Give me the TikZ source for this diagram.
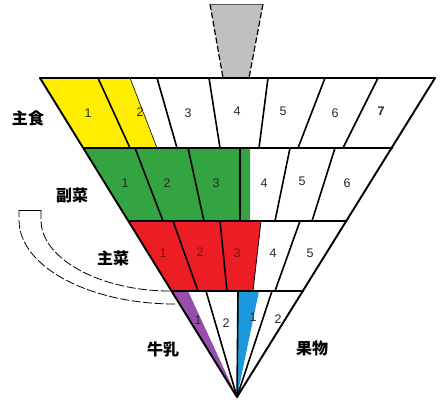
\documentclass[tikz,border=0pt]{standalone}
\usepackage{fontspec}
\setmainfont{Liberation Sans}
\newfontfamily\jpfont{Noto Sans CJK JP}
\definecolor{grainyellow}{RGB}{255,238,0}
\definecolor{vegegreen}{RGB}{52,163,66}
\definecolor{mainred}{RGB}{236,30,36}
\definecolor{milkpurple}{RGB}{150,78,170}
\definecolor{fruitblue}{RGB}{28,152,222}
\definecolor{handlegray}{RGB}{192,192,192}
\definecolor{numdark}{RGB}{40,40,40}
\definecolor{numred}{RGB}{120,20,20}
\begin{document}
\begin{tikzpicture}[x=1pt,y=-1pt,
  num/.style={font=\fontsize{12.5}{12.5}\selectfont, text=numdark, inner sep=0pt},
  numonred/.style={num, text=numred},
  cat/.style={font=\jpfont\bfseries\fontsize{16}{16}\selectfont, inner sep=0pt},
  divider/.style={line width=1.6pt, line join=round},
  bandline/.style={line width=2.8pt},
  rim/.style={line width=1.9pt, line join=round},
  guide/.style={line width=0.8pt, dash pattern=on 9pt off 2.5pt},
  handleside/.style={line width=1.2pt, dash pattern=on 6pt off 2.5pt}]
\useasboundingbox (0,0) rectangle (446,405);

% ---- outline of the top
\coordinate (A)  at (237,397);
\coordinate (L0) at (40,78);   \coordinate (R0) at (435,78);
\coordinate (L1) at (83,148);  \coordinate (R1) at (393,148);
\coordinate (L2) at (128,221); \coordinate (R2) at (347,221);
\coordinate (L3) at (172,291); \coordinate (R3) at (304,291);

% ---- curved guide showing the spin
\draw[guide] (175,304) .. controls (88.8,304) and (19,266.4) .. (19,220)
  -- (19,210);
\draw[guide] (41,210) -- (41,220)
  .. controls (41,259.2) and (101,291) .. (170,291);
\draw[line width=0.8pt] (19,210) -- (41,210);

% ---- handle
\fill[handlegray] (210,4) -- (263,4) -- (249,78) -- (223,78) -- cycle;
\draw[handleside] (210,4) -- (223,78);
\draw[handleside] (263,4) -- (249,78);
\draw[line width=1pt, gray!70!black] (210,4) -- (263,4);

% ---- coloured servings
\fill[grainyellow] (L0) -- (130,78) -- (157,148) -- (L1) -- cycle;
\fill[vegegreen] (L1) -- (250,148) -- (250,221) -- (L2) -- cycle;
\fill[mainred] (L2) -- (261,221) -- (253,291) -- (L3) -- cycle;
\fill[milkpurple] (L3) -- (188,291) -- (A) -- cycle;
\fill[fruitblue] (238,291) -- (259,291) -- (A) -- cycle;

% ---- dividers, staple foods
\draw[line width=0.6pt] (130,78) -- (157,148);
\draw[divider] (98,78) -- (130,148);
\draw[divider] (157,78) -- (177,148);
\draw[divider] (209,78) -- (220,148);
\draw[divider] (268,78) -- (259,148);
\draw[divider] (325,78) -- (298,148);
\draw[divider] (378,78) -- (343,148);
% ---- dividers, side dishes
\draw[divider] (135,148) -- (163,221);
\draw[divider] (188,148) -- (204,221);
\draw[divider] (240,148) -- (240,221);
\draw[divider] (290,148) -- (275,221);
\draw[divider] (335,148) -- (312,221);
% ---- dividers, main dishes
\draw[divider] (173,221) -- (198,291);
\draw[divider] (220,221) -- (227,291);
\draw[line width=0.8pt] (261,221) -- (253,291);
\draw[divider] (300,221) -- (275,291);
% ---- dividers, milk and fruit
\draw[divider] (206,291) -- (A);
\draw[divider] (238,291) -- (A);
\draw[divider] (272,291) -- (A);

% ---- band lines and rim
\draw[bandline] (L1) -- (R1);
\draw[bandline] (L2) -- (R2);
\draw[bandline] (L3) -- (R3);
\draw[rim] (A) -- (L0) -- (R0) -- cycle;

% ---- serving numbers
\node[num] (s1) at (88,113) {1};
\node[num] (s2) at (140,112) {2};
\node[num] (s3) at (188,113) {3};
\node[num] (s4) at (237,111) {4};
\node[num] (s5) at (283,111) {5};
\node[num] (s6) at (335,113) {6};
\node[num, font=\bfseries\fontsize{12.5}{12.5}\selectfont] (s7) at (381,111) {7};

\node[num] (v1) at (125,183) {1};
\node[num] (v2) at (167,183) {2};
\node[num] (v3) at (216,183) {3};
\node[num] (v4) at (264,183) {4};
\node[num] (v5) at (302,181) {5};
\node[num] (v6) at (347,183) {6};

\node[numonred] (m1) at (163,253) {1};
\node[numonred] (m2) at (200,252) {2};
\node[numonred] (m3) at (237,253) {3};
\node[num] (m4) at (273,253) {4};
\node[num] (m5) at (310,253) {5};

\node[num] (k1) at (198,320) {1};
\node[num] (k2) at (226,323) {2};
\node[num] (f1) at (253,317) {1};
\node[num] (f2) at (278,319) {2};

% ---- group names
\node[cat] (staple) at (28,118) {主食};
\node[cat] (side)   at (72,195) {副菜};
\node[cat] (main)   at (113,258) {主菜};
\node[cat] (milk)   at (163,349) {牛乳};
\node[cat] (fruit)  at (312,348) {果物};
\end{tikzpicture}
\end{document}
